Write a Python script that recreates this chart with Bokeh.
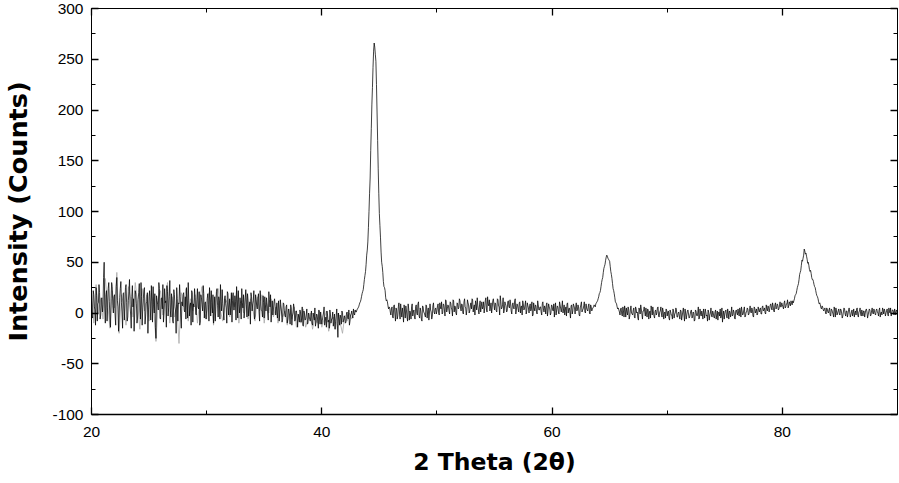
from bokeh.plotting import figure
from bokeh.models import Range1d, LinearAxis, FixedTicker
from bokeh.embed import file_html
from bokeh.resources import INLINE

# ---- data ----
# scan A: 2-theta 20.00, 20.10, ... 90.00 ; scan B: 20.05, 20.15, ... 89.95
x_start_a = 20.0
x_start_b = 20.05
x_step = 0.1
scan_a_20_30 = [
    12, -5, 18, 3, 25, -8, 10, 20, -2, 15,
    8, 50, -10, 22, 5, 30, -6, 14, 26, 0,
    18, -12, 35, 6, -4, 24, 10, -15, 20, 4,
    28, -8, 12, 33, -2, 16, 6, -18, 22, 9,
    -5, 20, 2, 30, -12, 14, 25, -3, 11, -20,
    16, 4, 27, -9, 8, 19, -25, 12, 3, 24,
    -6, 15, 28, 0, 10, -14, 21, 5, 32, -4,
    12, -10, 18, 2, 25, -8, 9, 16, -15, 7,
    20, 1, -6, 14, 30, -3, 10, 22, -9, 6,
    15, -2, 24, 4, -12, 18, 8, 27, -5, 11,
]
scan_a_30_40 = [
    3, 19, -8, 13, 22, 0, -10, 16, 6, 24,
    -4, 12, 28, 2, 9, -7, 17, 5, 21, -2,
    14, 7, -9, 20, 3, 11, 26, -5, 8, 15,
    -6, 10, 18, 1, 23, -4, 12, 6, -11, 16,
    9, 22, -3, 13, 4, 19, -8, 11, 2, 17,
    -5, 8, 15, 0, 21, 6, -9, 12, 3, 14,
    -2, 10, 4, -8, 13, 1, -6, 9, -3, 6,
    -10, 4, -2, 8, -12, 0, 5, -7, 2, -14,
    -4, 3, -9, 6, -13, -1, -6, 4, -10, -3,
    -8, 2, -12, -4, 5, -9, -2, -15, -5, 1,
]
scan_a_40_50 = [
    -11, -3, 6, -8, -14, -2, -7, 3, -10, -5,
    -13, -1, -8, 4, -24, -6, -2, -11, 0, -7,
    -4, -9, 1, -6, -12, -2, 2, -5, 0, 3,
    1, 4, 6, 10, 13, 19, 23, 33, 41, 57,
    70, 100, 133, 182, 222, 258, 262, 248, 198, 142,
    98, 74, 50, 40, 26, 22, 12, 11, 4, 5,
    -2, 6, -5, 8, -8, 3, -3, 10, -6, 2,
    5, -9, 1, 7, -4, 9, -7, 0, 6, -3,
    3, -6, 8, -2, 11, -5, 2, -8, 6, 0,
    -4, 7, 2, -7, 9, 1, -3, 10, -1, 5,
]
scan_a_50_60 = [
    2, 9, -2, 6, 11, 0, 8, -3, 12, 4,
    7, -1, 10, 3, 13, 1, 6, -2, 9, 5,
    12, 2, 8, -1, 14, 5, 3, 10, 0, 7,
    4, 13, 6, -2, 9, 15, 3, 8, 1, 11,
    6, 0, 12, 4, 16, 7, 2, 10, 5, 14,
    3, 9, 1, 13, 6, 17, 4, 8, 0, 11,
    7, 2, 12, 5, 9, -1, 10, 4, 14, 3,
    8, 1, 11, 6, -2, 9, 4, 12, 2, 7,
    0, 9, 4, -3, 10, 2, 7, -1, 8, 3,
    6, -2, 11, 1, 5, 8, -3, 9, 4, 0,
]
scan_a_60_70 = [
    7, 2, -4, 10, 3, 6, -1, 8, 1, 12,
    4, -2, 6, 9, 0, 5, -5, 8, 2, 7,
    -1, 10, 3, 6, -3, 8, 1, 4, 11, 0,
    5, 2, 9, -1, 6, 4, 6, 7, 9, 11,
    14, 19, 22, 30, 35, 44, 48, 55, 56, 53,
    51, 41, 34, 24, 19, 11, 9, 4, 3, -2,
    5, -3, 2, 7, -4, 1, 6, -6, 3, 0,
    -2, 5, -5, 4, 1, -7, 3, 8, -1, 2,
    6, -3, 0, 4, -6, 2, 7, -2, 1, -5,
    3, 0, 6, -4, 2, -1, 5, -6, 1, 4,
]
scan_a_70_80 = [
    -3, 2, -7, 1, -2, 4, -5, 0, 3, -4,
    1, -6, 2, -3, 5, -8, 0, -2, 3, -5,
    -1, 3, -4, 0, -7, 2, -3, 6, -5, -1,
    2, -6, 0, 4, -3, -8, 1, -2, 5, -4,
    0, -5, 3, -2, -7, 1, 4, -3, -9, 2,
    -1, 3, -5, 0, 2, -4, 6, -2, 1, -6,
    3, -2, 0, 5, -4, 2, -1, 6, -3, 1,
    4, -1, 7, 0, 3, -4, 5, 2, -2, 6,
    1, 5, -1, 7, 3, 0, 8, 2, 6, 4,
    9, 3, 7, 1, 10, 5, 8, 4, 11, 6,
]
scan_a_80_90 = [
    8, 4, 12, 6, 9, 5, 11, 7, 10, 12,
    12, 17, 19, 25, 29, 38, 42, 52, 54, 63,
    58, 56, 49, 47, 41, 39, 33, 31, 26, 22,
    17, 14, 9, 8, 4, 6, 2, 5, -1, 4,
    0, 5, -3, 3, -1, 6, -4, 2, 0, 4,
    -2, 3, -5, 1, 4, -3, 2, -1, 5, -4,
    1, -3, 4, 0, -2, 5, -4, 2, -1, 3,
    -3, 2, 0, 4, -5, 1, 3, -2, 5, -1,
    2, -2, 4, 0, 3, -4, 1, 5, -1, 2,
    0, 4, -3, 2, 5, -1, 3, -2, 1, 3,
    0,
]
scan_b_20_30 = [
    -3, 22, 6, -12, 17, 9, 28, -6, 13, 1,
    35, 4, 18, -8, 24, 11, -14, 30, 7, 16,
    -2, 26, 12, -18, 15, 31, 0, 19, -7, 25,
    10, -4, 21, 8, -15, 27, 14, -1, 18, -10,
    13, 29, -6, 16, 5, 23, -11, 9, 20, 3,
    22, -7, 11, 26, 0, -14, 17, 8, 30, -5,
    14, 4, -9, 24, 12, 27, -3, 16, 2, 19,
    -8, 23, 6, -20, 14, 10, 28, -4, 11, 18,
    3, 16, 25, -5, 12, 7, -12, 20, 9, 24,
    -1, 13, 6, 21, -9, 15, 2, 19, 10, -6,
]
scan_b_30_40 = [
    14, 8, 25, -3, 10, 18, 4, -8, 21, 7,
    16, -6, 11, 23, 1, 14, 9, -10, 19, 5,
    -2, 20, 12, 3, 17, -7, 13, 22, 0, 9,
    24, 5, -5, 15, 8, 19, -3, 11, 20, 2,
    12, -6, 18, 7, 14, 1, 22, 3, -4, 10,
    16, 2, 9, -7, 13, 18, 4, -2, 11, 6,
    3, -5, 12, 0, 7, -9, 10, 2, -4, 8,
    -6, 1, -11, 5, -3, 9, -8, 2, -5, -1,
    -9, 1, -5, -12, 2, -7, -2, -11, 0, -6,
    -3, -10, 0, -7, -13, -1, -8, 3, -11, -4,
]
scan_b_40_50 = [
    -7, 0, -12, -4, 2, -9, -15, -1, -6, 1,
    -8, -16, -3, -10, 0, -12, -5, 2, -9, -3,
    -10, 0, -5, 3, -8, -1, -3, 4, -2, 1,
    3, 5, 8, 11, 16, 21, 28, 37, 48, 62,
    84, 118, 160, 205, 242, 266, 255, 225, 170, 118,
    86, 60, 46, 31, 25, 15, 13, 7, 6, 1,
    4, -4, 7, -1, 5, -6, 6, 0, 9, -4,
    -1, 8, -5, 3, -8, 4, 2, -6, 9, 1,
    -4, 6, 0, 9, -3, 5, -6, 7, 1, -2,
    8, -5, 5, 0, 3, -6, 7, 1, 4, -1,
]
scan_b_50_60 = [
    7, 0, 10, 4, -1, 9, 3, 13, 1, 8,
    2, 11, 5, -3, 12, 7, 0, 10, 4, 14,
    5, 9, 0, 11, 6, -2, 13, 8, 2, 10,
    14, 1, 8, 12, 3, 7, -1, 12, 6, 4,
    11, 5, 15, 1, 9, 13, 6, 0, 12, 8,
    10, 2, 14, 7, -2, 11, 5, 15, 3, 9,
    1, 11, 6, 13, 2, 8, 5, 12, -1, 9,
    4, 10, 0, 7, 12, 3, 8, -1, 10, 5,
    7, 2, 11, -2, 5, 8, 1, 12, 3, 6,
    1, 9, 4, 7, -1, 10, 2, 6, -2, 8,
]
scan_b_60_70 = [
    3, 9, 5, -2, 7, 1, 11, 4, 6, 0,
    8, 3, -3, 10, 4, 1, 7, -1, 9, 5,
    6, 2, 8, -2, 5, 11, 3, 7, 1, 9,
    3, 7, 0, 8, 2, 5, 8, 6, 10, 12,
    16, 20, 26, 33, 40, 46, 52, 57, 54, 52,
    46, 38, 29, 22, 15, 10, 6, 5, 1, 4,
    -1, 6, -4, 3, 5, -2, 4, -3, 7, -1,
    3, -4, 6, 0, -5, 5, -1, 4, -6, 2,
    1, 5, -4, 3, 0, -5, 4, 6, -3, 2,
    -2, 5, -3, 1, 6, -4, 2, 0, -5, 3,
]
scan_b_70_80 = [
    1, -5, 3, -2, -6, 2, -1, 5, -4, 0,
    -3, 3, -7, 1, -2, 4, -6, 2, -1, -4,
    2, -5, 1, -8, 3, -2, 0, -6, 4, -3,
    -1, 4, -5, 1, -2, 3, -7, 0, -3, 2,
    -4, 1, -6, 2, 0, -3, -5, 5, -2, -6,
    2, -3, 4, -6, 1, 0, -3, 3, -5, 2,
    0, 4, -3, 2, 6, -2, 3, -4, 1, 5,
    -2, 3, 1, 5, -3, 6, 0, 4, -1, 3,
    4, -1, 6, 2, 5, -1, 4, 7, 1, 8,
    5, 10, 2, 8, 4, 9, 3, 7, 6, 10,
]
scan_b_80_90 = [
    6, 10, 5, 9, 13, 7, 9, 12, 8, 10,
    14, 18, 22, 27, 33, 40, 47, 51, 57, 61,
    59, 53, 50, 43, 42, 35, 33, 28, 25, 19,
    16, 11, 10, 5, 7, 3, 4, 0, 5, 1,
    3, -2, 4, 1, -4, 3, 5, -2, 2, -1,
    4, 0, -3, 5, -1, 2, -4, 3, 1, -2,
    3, 0, -4, 2, 4, -2, 1, 5, -3, 0,
    2, -4, 3, 1, -2, 4, -3, 2, 0, 4,
    -1, 3, 1, -3, 5, 0, -2, 3, 4, -3,
    2, -1, 5, 0, -3, 3, 1, 4, -2, 2,
]
# lighter companion trace (step 0.2 deg, 20.0 - 42.8)
gray_start = 20.0
gray_step = 0.2
gray_intensity = [
    20, -10, 28, 0, 15, -6, 34, 10, -15, 22,
    5, 40, -20, 18, 8, -12, 26, 14, -4, 30,
    10, -16, 24, 2, 18, -8, 20, 6, -28, 14,
    22, -2, 12, 30, -10, 16, -4, 8, -30, 20,
    6, 24, -8, 14, 2, 18, -10, 12, 26, 0,
    -6, 20, 8, -12, 16, 24, 2, -8, 14, 10,
    -4, 18, 6, 22, -10, 12, 0, 20, -6, 14,
    4, -8, 16, 2, 18, -10, 10, 0, 14, -4,
    6, -10, 8, -4, 2, -12, 4, -6, 6, -14,
    -2, -10, 4, -14, -6, 0, -16, -4, -10, 2,
    -14, -6, 2, -18, -8, -4, -16, 0, -10, -20,
    -2, -8, 0, -6, 2,
]
x_ticks = [20, 40, 60, 80]
x_minor = [30, 50, 70]
y_ticks = [-100, -50, 0, 50, 100, 150, 200, 250, 300]
y_minor = [-75, -25, 25, 75, 125, 175, 225, 275]

scan_a = (scan_a_20_30 + scan_a_30_40 + scan_a_40_50 + scan_a_50_60
          + scan_a_60_70 + scan_a_70_80 + scan_a_80_90)
scan_b = (scan_b_20_30 + scan_b_30_40 + scan_b_40_50 + scan_b_50_60
          + scan_b_60_70 + scan_b_70_80 + scan_b_80_90)
pts = [(round(x_start_a + i * x_step, 2), v) for i, v in enumerate(scan_a)]
pts += [(round(x_start_b + i * x_step, 2), v) for i, v in enumerate(scan_b)]
pts.sort()
two_theta = [t for t, _ in pts]
intensity = [v for _, v in pts]
gray_theta = [round(gray_start + i * gray_step, 2) for i in range(len(gray_intensity))]

TICK_FONT = "Liberation Sans"
LABEL_FONT = "DejaVu Sans"

p = figure(width=899, height=483, x_range=Range1d(20, 90), y_range=Range1d(-100, 300),
           output_backend="svg", toolbar_location=None,
           min_border_left=91, min_border_right=2, min_border_top=8, min_border_bottom=69,
           x_axis_location=None, y_axis_location=None)
p.grid.visible = False
p.outline_line_color = "black"
p.outline_line_width = 1
p.background_fill_color = "white"
p.border_fill_color = "white"

p.line(gray_theta, gray_intensity, line_color="#a8a8a8", line_width=0.8)
p.line(two_theta, intensity, line_color="black", line_width=0.75)


def style(ax, labels=True):
    ax.major_tick_in = 7
    ax.major_tick_out = 0
    ax.minor_tick_in = 4
    ax.minor_tick_out = 0
    ax.major_tick_line_width = 1.3
    ax.minor_tick_line_width = 1
    ax.major_tick_line_color = "black"
    ax.minor_tick_line_color = "black"
    ax.axis_line_color = "black"
    ax.major_label_text_font = TICK_FONT
    ax.major_label_text_font_size = "15.5px"
    ax.major_label_text_color = "black"
    ax.axis_label_text_font = LABEL_FONT
    ax.axis_label_text_font_style = "bold"
    ax.axis_label_text_color = "black"
    if not labels:
        ax.major_label_text_font_size = "0px"
        ax.major_label_text_color = None
        ax.major_label_standoff = 0


xb = LinearAxis(ticker=FixedTicker(ticks=x_ticks, minor_ticks=x_minor), axis_label="2 Theta (2θ)")
style(xb)
xb.axis_line_width = 1.5
xb.major_label_standoff = 12
xb.axis_label_standoff = 8
xb.axis_label_text_font_size = "23.5px"
p.add_layout(xb, "below")

yl = LinearAxis(ticker=FixedTicker(ticks=y_ticks, minor_ticks=y_minor), axis_label="Intensity (Counts)")
style(yl)
yl.major_label_standoff = 8
yl.axis_label_standoff = 16
yl.axis_label_text_font_size = "25.5px"
yl.major_label_overrides = {t: str(t) for t in y_ticks if t < 0}
p.add_layout(yl, "left")

xt = LinearAxis(ticker=FixedTicker(ticks=x_ticks, minor_ticks=x_minor))
style(xt, labels=False)
p.add_layout(xt, "above")

yr = LinearAxis(ticker=FixedTicker(ticks=y_ticks, minor_ticks=y_minor))
style(yr, labels=False)
p.add_layout(yr, "right")

open("out.html", "w").write(file_html(p, INLINE))
